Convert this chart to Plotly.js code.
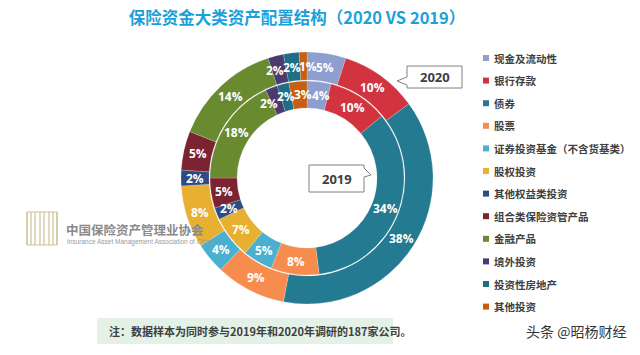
<!DOCTYPE html>
<html>
<head>
<meta charset="utf-8">
<script src="https://cdn.plot.ly/plotly-3.0.1.min.js"></script>
<style>html,body{margin:0;padding:0;background:#fff;}#chart{width:640px;height:355px;}</style>
</head>
<body>
<div id="chart"></div>
<script>
// ---- data ----
const categories = ['现金及流动性','银行存款','债券','股票','证券投资基金（不含货基类）','股权投资','其他权益类投资','组合类保险资管产品','金融产品','境外投资','投资性房地产','其他投资'];
const values2020 = [5, 10, 38, 9, 4, 8, 2, 5, 14, 2, 2, 1];
const values2019 = [4, 10, 34, 8, 5, 7, 2, 5, 18, 2, 2, 3];
const colors = ['#8e9ecf','#d1343f','#237a91','#f68c4e','#4bafd0','#e8b031','#2b4c86','#7c2331','#6a8a30','#4b3a6f','#1f6e84','#c65f12'];
const yearLabels = ['2020','2019'];

// ---- geometry (pixels) ----
const W = 640, H = 355;
const cx = 307, cy = 178;
const rOuter = 126, rMid = 98, rInner = 70;
const X = p => p / W, Y = p => 1 - p / H;
const cjk = 'Noto Sans CJK SC, Noto Sans, sans-serif';

const outer = {
  type: 'pie', values: values2020, labels: categories, sort: false,
  direction: 'clockwise', rotation: 0, hole: rMid / rOuter,
  marker: {colors: colors, line: {color: 'rgba(255,255,255,0.35)', width: 0.5}},
  textinfo: 'none', hoverinfo: 'label+percent', showlegend: false,
  domain: {x: [X(cx - rOuter), X(cx + rOuter)], y: [Y(cy + rOuter), Y(cy - rOuter)]}
};
const rIn2 = rMid - 1;
const inner = {
  type: 'pie', values: values2019, labels: categories, sort: false,
  direction: 'clockwise', rotation: 0, hole: rInner / rIn2,
  marker: {colors: colors, line: {color: 'rgba(255,255,255,0.35)', width: 0.5}},
  textinfo: 'none', hoverinfo: 'label+percent', showlegend: false,
  domain: {x: [X(cx - rIn2), X(cx + rIn2)], y: [Y(cy + rIn2), Y(cy - rIn2)]}
};

const annotations = [];
const shapes = [];
function ann(o) {
  annotations.push(Object.assign({xref: 'paper', yref: 'paper', showarrow: false, xanchor: 'center', yanchor: 'middle'}, o));
}

// slice labels at slice mid-angles, nudged apart where they would collide
function ringLabels(vals, r, minArc) {
  const total = vals.reduce((a, b) => a + b, 0);
  let cum = 0;
  const ang = vals.map(v => { const a = 2 * Math.PI * (cum + v / 2) / total; cum += v; return a; });
  const minGap = minArc / r;
  const n = ang.length;
  for (let it = 0; it < 60; it++) {
    for (let i = 0; i < n; i++) {
      const j = (i + 1) % n;
      let gap = ang[j] - ang[i];
      if (j === 0) gap += 2 * Math.PI;
      if (gap < minGap) {
        const d = (minGap - gap) / 2;
        ang[i] -= d; ang[j] += d;
      }
    }
  }
  vals.forEach((v, i) => {
    const th = ang[i];
    ann({
      x: X(cx + r * Math.sin(th)), y: Y(cy - r * Math.cos(th)),
      text: Math.round(v / total * 100) + '%',
      font: {family: 'Open Sans, sans-serif', size: 12, color: '#ffffff', weight: 'bold'}
    });
  });
}
ringLabels(values2020, (rOuter + rMid) / 2, 17);
ringLabels(values2019, (rMid + rInner) / 2, 18);

// legend (manual, to match spacing)
categories.forEach((c, i) => {
  const py = 58 + 22.6 * i;
  shapes.push({type: 'rect', xref: 'paper', yref: 'paper', x0: X(483), x1: X(489), y0: Y(py + 3), y1: Y(py - 3),
    fillcolor: colors[i], line: {width: 0}});
  ann({x: X(492), y: Y(py), xanchor: 'left', text: c,
    font: {family: cjk, size: 10.5, color: '#404040', weight: 'bold'}});
});

// callout boxes
function pathOf(pts) {
  return 'M' + pts.map(p => X(p[0]).toFixed(5) + ',' + Y(p[1]).toFixed(5)).join(' L') + ' Z';
}
shapes.push({type: 'path', xref: 'paper', yref: 'paper', fillcolor: '#ffffff', line: {color: '#808080', width: 1},
  path: pathOf([[407,66],[462,66],[462,88],[407,88],[407,85],[397,81],[407,77]])});
shapes.push({type: 'path', xref: 'paper', yref: 'paper', fillcolor: '#ffffff', line: {color: '#808080', width: 1},
  path: pathOf([[309,165],[364,165],[364,168],[371,175],[364,177],[364,192],[309,192]])});
ann({x: X(434.5), y: Y(77), text: yearLabels[0],
  font: {family: 'Open Sans, sans-serif', size: 13, color: '#404040', weight: 'bold'}});
ann({x: X(336.5), y: Y(178.5), text: yearLabels[1],
  font: {family: 'Open Sans, sans-serif', size: 13, color: '#404040', weight: 'bold'}});

// note box
shapes.push({type: 'rect', xref: 'paper', yref: 'paper', layer: 'below', x0: X(97), x1: X(393), y0: Y(344), y1: Y(318),
  fillcolor: '#e3f1e7', line: {width: 0}});
ann({x: X(107), y: Y(331), xanchor: 'left',
  text: '注：数据样本为同时参与2019年和2020年调研的187家公司。',
  font: {family: cjk, size: 11, color: '#404040', weight: 'bold'}});

// watermark
ann({x: X(628), y: Y(331), xanchor: 'right',
  text: '头条 @昭杨财经', font: {family: cjk, size: 14, color: '#333333'}});

// logo
const logoLines = [27, 31, 35, 40, 44, 49, 53, 57];
logoLines.forEach(lx => {
  shapes.push({type: 'line', xref: 'paper', yref: 'paper', layer: 'below', x0: X(lx), x1: X(lx), y0: Y(245), y1: Y(212),
    line: {color: '#cfc196', width: 1.2}});
});
shapes.push({type: 'rect', xref: 'paper', yref: 'paper', layer: 'below', x0: X(27), x1: X(57), y0: Y(245), y1: Y(212),
  line: {color: '#cfc196', width: 1}, fillcolor: 'rgba(0,0,0,0)'});
ann({x: X(64), y: Y(229), xanchor: 'left',
  text: '中国保险资产管理业协会', font: {family: cjk, size: 12.5, color: '#8a8a8a', weight: 'bold'}});
ann({x: X(65), y: Y(242), xanchor: 'left',
  text: 'Insurance Asset Management Association of China', font: {family: 'Liberation Sans, sans-serif', size: 6.5, color: '#9a9a9a'}});

const layout = {
  width: W, height: H,
  margin: {l: 0, r: 0, t: 0, b: 0},
  paper_bgcolor: '#ffffff',
  title: {text: '保险资金大类资产配置结构（2020 VS 2019）', x: X(297), xanchor: 'center', y: Y(18), yanchor: 'middle',
    font: {family: cjk, size: 16.5, color: '#1ba1d9', weight: 'bold'}},
  showlegend: false,
  annotations: annotations,
  shapes: shapes
};

Plotly.newPlot('chart', [outer, inner], layout, {displayModeBar: false, staticPlot: true});
</script>
</body>
</html>
